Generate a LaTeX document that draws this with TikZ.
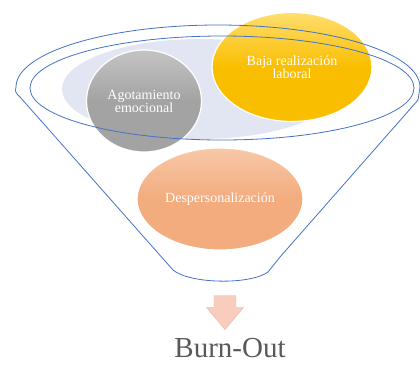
\documentclass[tikz,border=0pt]{standalone}
\usepackage{fontspec}
\setmainfont{Liberation Serif}
\usetikzlibrary{shapes.geometric,shapes.arrows}
\definecolor{FunnelBlue}{RGB}{68,114,196}
\definecolor{PaleLilac}{RGB}{226,230,242}
\definecolor{BallGray}{RGB}{163,163,163}
\definecolor{BallGrayLt}{RGB}{196,196,196}
\definecolor{BallGold}{RGB}{250,190,0}
\definecolor{BallGoldLt}{RGB}{255,222,110}
\definecolor{BallPeach}{RGB}{243,172,126}
\definecolor{BallPeachLt}{RGB}{248,200,168}
\definecolor{ArrowPink}{RGB}{248,205,190}
\definecolor{CapGray}{RGB}{89,89,89}

\begin{document}
\begin{tikzpicture}[x=1pt,y=-1pt,
  rim/.style={FunnelBlue,line width=0.8pt},
  ball/.style={ellipse,draw=white,line width=1.2pt,inner sep=0pt,
    text=white,align=center,font=\fontsize{14}{13}\selectfont}]
  \useasboundingbox (0,0) rectangle (420,365);
  % back of the funnel
  \fill[PaleLilac] (200,89) ellipse[x radius=138,y radius=50];
  % the three balls
  \node[ball,top color=BallGrayLt,bottom color=BallGray,middle color=BallGray,
    minimum width=115pt,minimum height=102pt] (agot) at (144,101)
    {Agotamiento\\emocional};
  \node[ball,top color=BallGoldLt,bottom color=BallGold,middle color=BallGold,
    minimum width=160pt,minimum height=109pt] (baja) at (292,67)
    {Baja realización\\laboral};
  \node[ball,top color=BallPeachLt,bottom color=BallPeach,middle color=BallPeach,
    minimum width=166pt,minimum height=102pt] (desp) at (220,199)
    {Despersonalización};
  % funnel outline
  \draw[rim] (173,270) -- (20,97) .. controls (15,92) .. (16,87)
    arc[start angle=180,end angle=360,x radius=202,y radius=62]
    -- (418,100) -- (280,257) -- (268,272)
    .. controls (250,285) and (190,284) .. (173,270);
  \draw[rim] (222,88) ellipse[x radius=192,y radius=52];
  % result
  \node[single arrow,rotate=-90,fill=ArrowPink,draw=ArrowPink!85!black!70!ArrowPink,
    inner xsep=0pt,inner ysep=10pt,minimum width=37pt,minimum height=34pt,
    single arrow head extend=7pt,single arrow tip angle=80] (flecha) at (225,306) {};
  \node[text=CapGray,font=\fontsize{29}{29}\selectfont] (burnout) at (230,348) {Burn-Out};
\end{tikzpicture}
\end{document}
